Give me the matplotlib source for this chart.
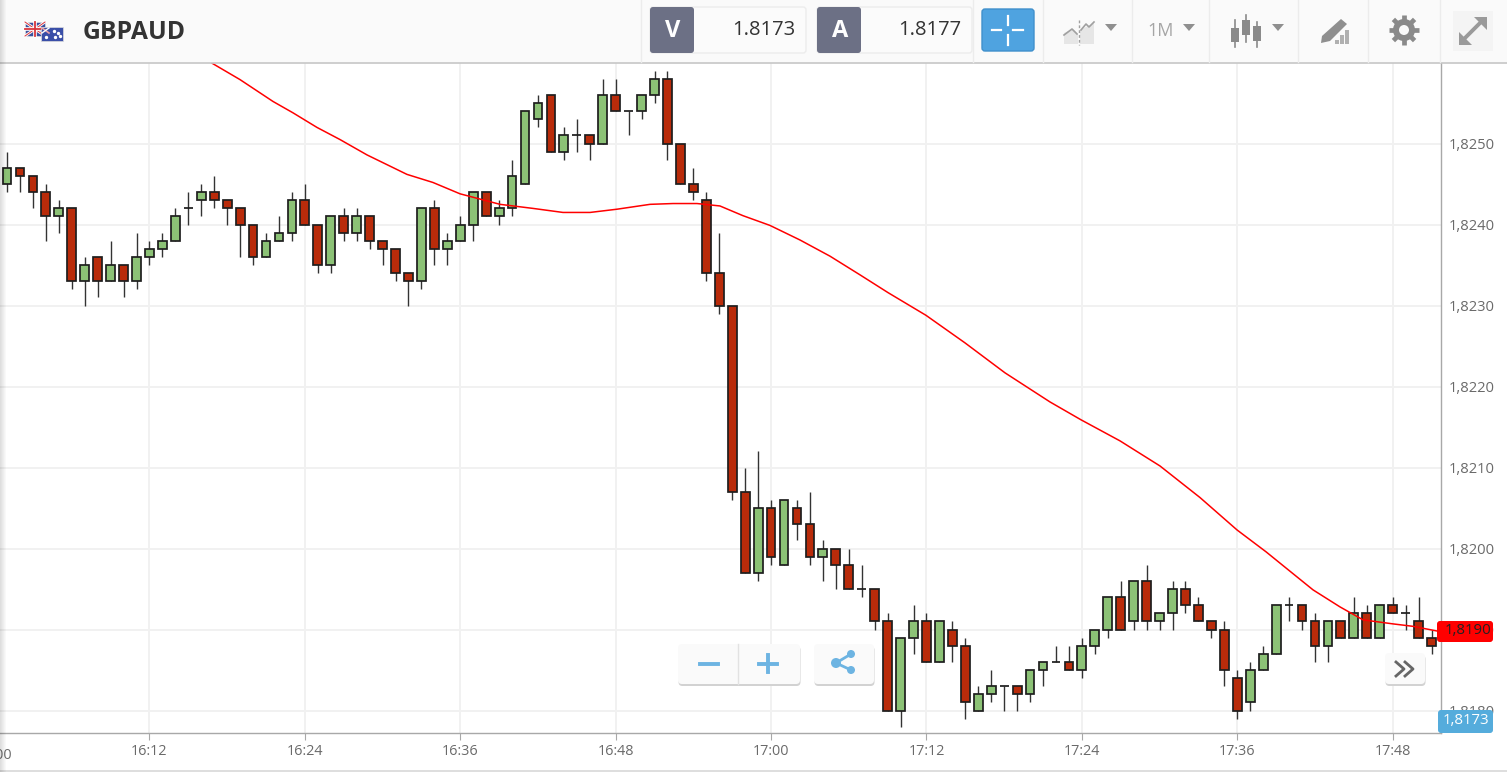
import numpy as np
import matplotlib
matplotlib.use("Agg")
import matplotlib.pyplot as plt
from matplotlib.patches import FancyBboxPatch, Rectangle, Polygon, Circle
from matplotlib.ticker import FuncFormatter

plt.rcParams['font.family'] = ['Open Sans', 'DejaVu Sans']

# candle values, in pips above 1.8180, one per minute from 16:01
base_price = 1.8180
minutes = list(range(1, 112))
opens = [65, 67, 66, 64, 61, 62, 53, 56, 53, 55, 53, 56, 57, 58, 62, 63, 64, 63, 62, 60,
         56, 58, 59, 63, 60, 55, 61, 59, 61, 58, 57, 54, 53, 62, 57, 58, 60, 64, 61, 62,
         65, 73, 76, 69, 71, 71, 70, 76, 74, 74, 76, 78, 70, 65, 63, 54, 50, 27, 17, 25,
         18, 25, 23, 19, 20, 18, 15, 15, 11, 0, 9, 11, 6, 10, 8, 0, 2, 3, 3, 2,
         5, 6, 6, 5, 8, 10, 14, 11, 16, 11, 12, 15, 13, 11, 10, 4, 1, 5, 7, 13,
         13, 11, 8, 11, 9, 12, 9, 13, 12, 11, 9]
highs = [69, 67, 66, 65, 63, 62, 56, 56, 58, 55, 59, 58, 59, 62, 64, 65, 66, 63, 62, 60,
         59, 61, 64, 65, 60, 61, 62, 62, 61, 58, 57, 54, 62, 63, 59, 61, 64, 64, 63, 68,
         74, 76, 76, 72, 73, 71, 78, 78, 74, 76, 79, 79, 70, 67, 64, 59, 50, 30, 32, 26,
         26, 26, 27, 21, 20, 20, 18, 15, 12, 9, 13, 12, 11, 11, 9, 3, 5, 3, 3, 5,
         6, 8, 8, 9, 10, 14, 16, 16, 18, 12, 16, 16, 14, 11, 11, 5, 6, 8, 13, 14,
         13, 12, 11, 11, 14, 13, 13, 14, 13, 14, 10]
lows = [64, 64, 62, 58, 59, 52, 50, 51, 53, 51, 52, 55, 56, 58, 60, 61, 62, 60, 56, 55,
        56, 58, 58, 60, 54, 54, 58, 58, 57, 55, 53, 50, 52, 55, 55, 58, 58, 61, 60, 61,
        65, 72, 69, 68, 69, 68, 70, 74, 71, 73, 75, 68, 65, 63, 53, 49, 26, 17, 16, 18,
        18, 21, 18, 16, 15, 15, 14, 10, 0, -2, 7, 6, 6, 6, -1, 0, 1, 0, 0, 1,
        3, 6, 5, 4, 7, 9, 10, 10, 10, 10, 10, 12, 11, 9, 3, -1, 0, 5, 7, 11,
        10, 6, 6, 9, 9, 9, 9, 12, 10, 9, 7]
closes = [67, 66, 64, 61, 62, 53, 55, 53, 55, 53, 56, 57, 58, 61, 62, 64, 63, 62, 60, 56,
          58, 59, 63, 60, 55, 61, 59, 61, 58, 57, 54, 53, 62, 57, 58, 60, 64, 61, 62, 66,
          74, 75, 69, 71, 71, 70, 76, 74, 74, 76, 78, 70, 65, 64, 54, 50, 27, 17, 25, 19,
          26, 23, 19, 20, 18, 15, 15, 11, 0, 9, 11, 6, 11, 8, 1, 2, 3, 3, 2, 5,
          6, 6, 5, 8, 10, 14, 10, 16, 11, 12, 15, 13, 11, 10, 5, 0, 5, 7, 13, 13,
          11, 8, 11, 9, 12, 9, 13, 12, 12, 9, 8]

# moving average, minutes after 16:00 and pips above 1.8180
ma_minutes = [15.0, 16.75, 18.99, 21.54, 23.08, 24.93, 26.71, 28.80, 31.88, 33.89, 35.98,
              39.07, 41.61, 43.93, 46.02, 48.10, 50.65, 52.43, 54.28, 56.05, 57.83,
              59.91, 62.23, 64.55, 66.86, 69.03, 71.96, 74.97, 78.06, 81.54, 83.93,
              86.94, 90.03, 93.12, 95.98, 98.22, 99.84, 101.85, 103.93, 105.71,
              108.03, 109.57, 111.5]
ma_values = [81.8, 80.0, 77.9, 75.2, 73.8, 72.0, 70.5, 68.6, 66.2, 65.2, 63.8,
             62.5, 62.0, 61.5, 61.5, 61.9, 62.5, 62.6, 62.6, 62.3, 61.1,
             59.9, 58.1, 56.1, 53.8, 51.6, 48.8, 45.4, 41.7, 38.1, 35.9,
             33.3, 30.2, 26.3, 22.3, 19.6, 17.5, 14.9, 12.8, 11.2,
             10.7, 10.4, 9.8]

y_ticks = [1.8180, 1.8190, 1.8200, 1.8210, 1.8220, 1.8230, 1.8240, 1.8250]
x_ticks = [12, 24, 36, 48, 60, 72, 84, 96, 108]
x_labels = ["16:12", "16:24", "16:36", "16:48", "17:00", "17:12", "17:24", "17:36", "17:48"]

symbol = "GBPAUD"
sell_price = "1.8173"
buy_price = "1.8177"
ma_tag = "1,8190"
last_tag = "1,8173"

W, H = 1507, 772
fig = plt.figure(figsize=(W / 100, H / 100), dpi=100, facecolor="white")

# main chart
ax = fig.add_axes([0, (H - 732.6) / H, 1441 / W, 670 / H], zorder=1)
ax.set_xlim(0.456, 111.73)
ax.set_ylim(1.817728, 1.8260)

o = base_price + np.array(opens) / 10000
h = base_price + np.array(highs) / 10000
l = base_price + np.array(lows) / 10000
c = base_price + np.array(closes) / 10000

ax.set_xticks(x_ticks)
ax.set_xticklabels(x_labels)
ax.set_yticks(y_ticks)
ax.yaxis.set_major_formatter(FuncFormatter(lambda v, p: ("%.4f" % v).replace(".", ",")))
ax.yaxis.tick_right()
ax.grid(color="#f1f1f1", lw=1.4)
ax.set_axisbelow(True)
ax.tick_params(axis="y", length=0, pad=5.5, labelsize=10.6, labelcolor="#6a6a6a")
ax.tick_params(axis="x", length=5, width=0.8, color="#a8a8a8", pad=3.5, labelsize=10.4, labelcolor="#6a6a6a")
for lab in ax.get_yticklabels():
    lab.set_y(lab.get_position()[1])
    lab.set_verticalalignment("center_baseline")
for s in ["top", "left"]:
    ax.spines[s].set_visible(False)
for s in ["right", "bottom"]:
    ax.spines[s].set_color("#a8a8a8")
    ax.spines[s].set_linewidth(1.0)

# 16:00 is cut off by the left edge
ax.text(0, -0.0225, "16:00", transform=ax.get_xaxis_transform(), ha="center", va="top",
        fontsize=10.4, color="#6a6a6a", clip_on=False)

ax.vlines(minutes, l, h, color="#333333", lw=1.0, zorder=3)
colors = ["#8cc276" if cl >= op else "#b92b0a" for op, cl in zip(o, c)]
ax.bar(minutes, np.abs(c - o), bottom=np.minimum(o, c), width=0.68, color=colors,
       edgecolor="#1e1e1e", linewidth=1.25, zorder=4)
ax.plot(ma_minutes, base_price + np.array(ma_values) / 10000, color="#ff0000", lw=1.1, zorder=5)

# everything round the chart, in pixels of the picture
ui = fig.add_axes([0, 0, 1, 1], zorder=5)
ui.set_xlim(0, W)
ui.set_ylim(H, 0)
ui.axis("off")
ui.patch.set_alpha(0)


def box(x0, y0, x1, y1, fc, ec="none", r=3, lw=1, z=2):
    ui.add_patch(FancyBboxPatch((x0, y0), x1 - x0, y1 - y0, boxstyle="round,pad=0,rounding_size=%s" % r,
                                fc=fc, ec=ec, lw=lw, zorder=z))


def button(x0, y0, x1, y1):
    box(x0 + 0.5, y0 + 2, x1 + 0.5, y1 + 2, "#d2d2d2", r=4, z=2)
    box(x0, y0, x1, y1, "#fafafa", r=4, z=3)


def caret(x, y, color="#8a8a8a"):
    ui.add_patch(Polygon([(x - 6, y - 3), (x + 6, y - 3), (x, y + 4)], fc=color, ec="none", zorder=4))


# header bar
ui.add_patch(Rectangle((0, 0), W, 62, fc="#fafafa", ec="none", zorder=1))
ui.plot([0, W], [62.5, 62.5], color="#c6c6c6", lw=1.2, zorder=2)
ui.plot([0, W], [771, 771], color="#d8d8d8", lw=1.2, zorder=2)
for i in range(6):
    ui.add_patch(Rectangle((i, 0), 1, H, fc="#000000", alpha=0.13 * (1 - i / 6), ec="none", zorder=6))
for xs in [641, 973, 1043, 1132, 1209, 1298, 1368, 1440]:
    ui.plot([xs, xs], [0, 62], color="#ececec", lw=1, zorder=2)

# flags
ui.add_patch(Rectangle((25, 22), 20, 14, fc="#3b4f9e", ec="#dddddd", lw=0.5, zorder=3))
ui.plot([25, 45], [22, 36], color="white", lw=2.0, zorder=3)
ui.plot([25, 45], [36, 22], color="white", lw=2.0, zorder=3)
ui.plot([25, 45], [22, 36], color="#d8343c", lw=0.7, zorder=3)
ui.plot([25, 45], [36, 22], color="#d8343c", lw=0.7, zorder=3)
ui.plot([35, 35], [22, 36], color="white", lw=2.6, zorder=3)
ui.plot([25, 45], [29, 29], color="white", lw=2.6, zorder=3)
ui.plot([35, 35], [22, 36], color="#d8343c", lw=1.3, zorder=3)
ui.plot([25, 45], [29, 29], color="#d8343c", lw=1.3, zorder=3)
ui.add_patch(Rectangle((41, 27), 22, 14, fc="#3a4fa8", ec="#dddddd", lw=0.5, zorder=4))
ui.plot([42, 49], [28, 33], color="#e8a0a8", lw=1.2, zorder=4)
ui.plot([42, 49], [33, 28], color="white", lw=1.0, zorder=4)
ui.scatter([46, 54, 58, 55, 60], [37, 31, 33, 37, 36], s=2, color="white", zorder=4)

ui.text(83, 32.5, symbol, fontsize=17.8, fontweight="bold", color="#333333", va="center", zorder=4)

# quote boxes
for x0, x1, letter, price in [(650, 806, "V", sell_price), (817, 972, "A", buy_price)]:
    box(x0, 7, x1, 53, "#fbfbfb", ec="#ececec")
    box(x0, 7, x0 + 44, 53, "#6c7085", z=3)
    ui.text(x0 + 23, 31, letter, fontsize=17, fontweight="bold", color="white", ha="center", va="center", zorder=4)
    ui.text(x1 - 11, 30, price, fontsize=14.5, color="#333333", ha="right", va="center", zorder=4)

# crosshair button
box(982, 9, 1034, 51, "#4fa3e0", ec="#4090cc")
for xs, ys in [([1007.5, 1007.5], [16, 25]), ([1007.5, 1007.5], [35, 45]), ([992, 1001], [30, 30]), ([1013, 1023], [30, 30])]:
    ui.plot(xs, ys, color="white", lw=1.6, zorder=4)

# chart type icon
ui.add_patch(Polygon([(1064, 44), (1064, 33), (1073, 29), (1078, 34), (1078, 44)], fc="#e6e6e6", ec="none", zorder=3))
ui.add_patch(Polygon([(1080, 44), (1080, 30), (1086, 27), (1094, 23), (1094, 44)], fc="#e6e6e6", ec="none", zorder=3))
ui.plot([1064, 1072, 1077], [35, 29, 34], color="#a0a0a0", lw=1.2, zorder=4)
ui.plot([1081, 1086, 1089, 1094], [30, 24, 27, 22], color="#a0a0a0", lw=1.2, zorder=4)
ui.plot([1078.5, 1078.5], [20, 45], color="#a0a0a0", lw=1, ls=(0, (2, 1.5)), zorder=4)
caret(1111, 27, "#8f8f8f")

ui.text(1161, 31, "1M", fontsize=13, color="#a5a5a5", ha="center", va="center", zorder=4)
caret(1189, 27, "#8f8f8f")

# candle icon
for xs, y0, y1, b0, b1 in [(1235, 20, 47, 28, 42), (1246, 15, 42, 20, 35), (1257, 22, 47, 26, 41)]:
    ui.plot([xs, xs], [y0, y1], color="#8a8a8a", lw=1.2, zorder=3)
    ui.add_patch(Rectangle((xs - 4, b0), 8, b1 - b0, fc="#8a8a8a", ec="none", zorder=3))
caret(1278, 27, "#8f8f8f")

# drawing tool icon
ui.add_patch(Polygon([(1322, 36), (1341, 19), (1347, 24), (1330, 41), (1321, 43)], fc="#8f8f8f", ec="none", zorder=3))
for xs, top in [(1335, 40), (1340, 35), (1345, 30)]:
    ui.add_patch(Rectangle((xs, top), 3.5, 44 - top, fc="#b0b0b0", ec="none", zorder=3))

# gear
ui.add_patch(Circle((1404, 30), 11, fc="#8a8a8a", ec="none", zorder=3))
for a in np.arange(0, 360, 45):
    ui.plot([1404, 1404 + 15 * np.cos(np.radians(a))], [30, 30 + 15 * np.sin(np.radians(a))],
            color="#8a8a8a", lw=3.4, solid_capstyle="butt", zorder=3)
ui.add_patch(Circle((1404, 30), 5, fc="#fafafa", ec="none", zorder=4))

# expand icon
ui.add_patch(Rectangle((1453, 11), 40, 40, fc="#f4f4f4", ec="none", zorder=3))
ui.plot([1464, 1480], [39, 23], color="#9a9a9a", lw=2.8, zorder=4)
ui.add_patch(Polygon([(1474, 17), (1487, 17), (1487, 30)], fc="#9a9a9a", ec="none", zorder=4))
ui.add_patch(Polygon([(1459, 32), (1459, 45), (1472, 45)], fc="#9a9a9a", ec="none", zorder=4))

# zoom and share buttons
button(678, 644, 800, 684)
ui.plot([738, 738], [644, 684], color="#e2e2e2", lw=1, zorder=4)
ui.plot([700, 718], [663.5, 663.5], color="#6db4e2", lw=2.8, zorder=4)
ui.plot([759, 777], [663.5, 663.5], color="#6db4e2", lw=2.8, zorder=4)
ui.plot([768, 768], [655, 672], color="#6db4e2", lw=2.8, zorder=4)
button(814, 644, 874, 684)
ui.plot([851, 836, 851], [654, 663, 670], color="#6db4e2", lw=2, zorder=4)
ui.add_patch(Circle((851, 654), 4, fc="#6db4e2", ec="none", zorder=4))
ui.add_patch(Circle((851, 670), 4, fc="#6db4e2", ec="none", zorder=4))
ui.add_patch(Circle((836, 663), 5, fc="#6db4e2", ec="none", zorder=4))
button(1385, 653, 1425, 684)
ui.plot([1396, 1404, 1396], [662, 669, 676], color="#666666", lw=2, zorder=4)
ui.plot([1405, 1413, 1405], [662, 669, 676], color="#666666", lw=2, zorder=4)

# price tags
box(1437, 621, 1493, 642, "#ff0000")
ui.text(1468, 631, ma_tag, fontsize=10.8, color="#222222", ha="center", va="center", zorder=4)
box(1438, 710, 1493, 733, "#55acdc")
ui.text(1466, 721, last_tag, fontsize=10.8, color="white", ha="center", va="center", zorder=4)

fig.savefig("out.png", dpi=100)
